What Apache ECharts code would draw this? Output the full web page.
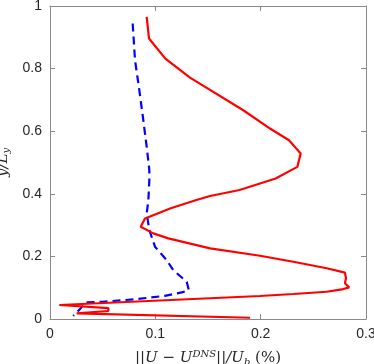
<!DOCTYPE html>
<html>
<head>
<meta charset="utf-8">
<script src="https://cdn.jsdelivr.net/npm/echarts@6/dist/echarts.min.js"></script>
<style>
  html, body { margin: 0; padding: 0; background: #fff; }
  #main { width: 374px; height: 364px; }
</style>
</head>
<body>
<div id="main"></div>
<script>
// red solid curve, [error, y/Ly] in drawing order
var redCurve = [
  [0.0918, 0.965], [0.094, 0.896], [0.1095, 0.832], [0.1329, 0.771],
  [0.1835, 0.667], [0.2089, 0.6085], [0.2269, 0.571], [0.238, 0.529],
  [0.2348, 0.486], [0.2142, 0.449], [0.180, 0.412], [0.152, 0.393],
  [0.139, 0.380], [0.114, 0.353], [0.0902, 0.321], [0.0861, 0.2947],
  [0.0981, 0.2735], [0.1123, 0.2575], [0.152, 0.2255], [0.1994, 0.202],
  [0.231, 0.183], [0.2627, 0.162], [0.280, 0.148], [0.281, 0.130],
  [0.280, 0.114], [0.284, 0.101], [0.2785, 0.0957], [0.2627, 0.087],
  [0.231, 0.0798], [0.1994, 0.0734], [0.0089, 0.0447], [0.0554, 0.035],
  [0.0554, 0.0255], [0.0253, 0.018], [0.0237, 0.0118], [0.19, 0.004]
]

// blue dashed curve
var blueCurve = [
  [0.0785, 0.944], [0.0807, 0.827], [0.0848, 0.731], [0.0886, 0.635],
  [0.0918, 0.550], [0.0943, 0.476], [0.0943, 0.444], [0.0934, 0.380],
  [0.0918, 0.337], [0.0943, 0.284], [0.0997, 0.231], [0.1108, 0.188],
  [0.117, 0.156], [0.1298, 0.119], [0.1318, 0.092], [0.125, 0.085],
  [0.109, 0.074], [0.0807, 0.063], [0.050, 0.055], [0.034, 0.053],
  [0.028, 0.030], [0.022, 0.010]
]

var xTicks = [0, 0.1, 0.2, 0.3]
var yTicks = [0, 0.2, 0.4, 0.6, 0.8, 1]

var font = 'Liberation Sans, Arial, sans-serif'
var mathFont = 'DejaVu Serif, serif'
var axisGray = '#8a8a8a'
var labelColor = '#262626'

function fmt (v) {
  return String(Math.round(v * 10) / 10)
}

// top / right axes: only the box line and inward ticks
function frameAxis (pos, min, max, step) {
  return {
    type: 'value',
    position: pos,
    min: min,
    max: max,
    interval: step,
    axisLine: { show: true, onZero: false, lineStyle: { color: axisGray, width: 1 } },
    axisTick: { show: true, inside: true, length: 5, lineStyle: { color: axisGray } },
    axisLabel: { show: false },
    splitLine: { show: false }
  }
}

var chart = echarts.init(document.getElementById('main'))

var option = {
  animation: false,
  grid: {
    left: 50, right: 8, top: 6, bottom: 45,
    outerBounds: { left: -40, right: -40, top: -40, bottom: -40 }
  },
  xAxis: [
    {
      type: 'value',
      position: 'bottom',
      min: xTicks[0],
      max: xTicks[xTicks.length - 1],
      interval: 0.1,
      axisLine: { show: true, onZero: false, lineStyle: { color: axisGray, width: 1 } },
      axisTick: { show: true, inside: true, length: 5, lineStyle: { color: axisGray } },
      axisLabel: { formatter: fmt, color: labelColor, fontSize: 14, fontFamily: font, margin: 8 },
      splitLine: { show: false },
      name: '{n|||U − U}{sup|DNS}{n|||/U}{sub|b}{r| (%)}',
      nameLocation: 'middle',
      nameGap: 30,
      nameTextStyle: {
        rich: {
          n: { fontSize: 15, fontFamily: mathFont, fontStyle: 'italic', color: labelColor },
          sup: { fontSize: 10, fontFamily: mathFont, fontStyle: 'italic', color: labelColor, verticalAlign: 'top', padding: [0, 0, 8, 0] },
          sub: { fontSize: 10, fontFamily: mathFont, fontStyle: 'italic', color: labelColor, padding: [8, 0, 0, 0] },
          r: { fontSize: 15, fontFamily: mathFont, color: labelColor }
        }
      }
    },
    frameAxis('top', xTicks[0], xTicks[xTicks.length - 1], 0.1)
  ],
  yAxis: [
    {
      type: 'value',
      position: 'left',
      min: yTicks[0],
      max: yTicks[yTicks.length - 1],
      interval: 0.2,
      axisLine: { show: true, onZero: false, lineStyle: { color: axisGray, width: 1 } },
      axisTick: { show: true, inside: true, length: 5, lineStyle: { color: axisGray } },
      axisLabel: { formatter: fmt, color: labelColor, fontSize: 14, fontFamily: font, margin: 8 },
      splitLine: { show: false },
      name: '{n|y/L}{sub|y}',
      nameLocation: 'middle',
      nameGap: 32,
      nameRotate: 90,
      nameTextStyle: {
        rich: {
          n: { fontSize: 15, fontFamily: mathFont, fontStyle: 'italic', color: labelColor },
          sub: { fontSize: 10, fontFamily: mathFont, fontStyle: 'italic', color: labelColor, padding: [8, 0, 0, 0] }
        }
      }
    },
    frameAxis('right', yTicks[0], yTicks[yTicks.length - 1], 0.2)
  ],
  series: [
    {
      type: 'line',
      data: redCurve,
      showSymbol: false,
      symbol: 'none',
      lineStyle: { color: '#ff0000', width: 2.2 },
      z: 3
    },
    {
      type: 'line',
      xAxisIndex: 1,
      yAxisIndex: 1,
      data: blueCurve,
      showSymbol: false,
      symbol: 'none',
      lineStyle: { color: '#0000ff', width: 2.2, type: [8, 5] },
      z: 2
    }
  ]
}

chart.setOption(option)
</script>
</body>
</html>
